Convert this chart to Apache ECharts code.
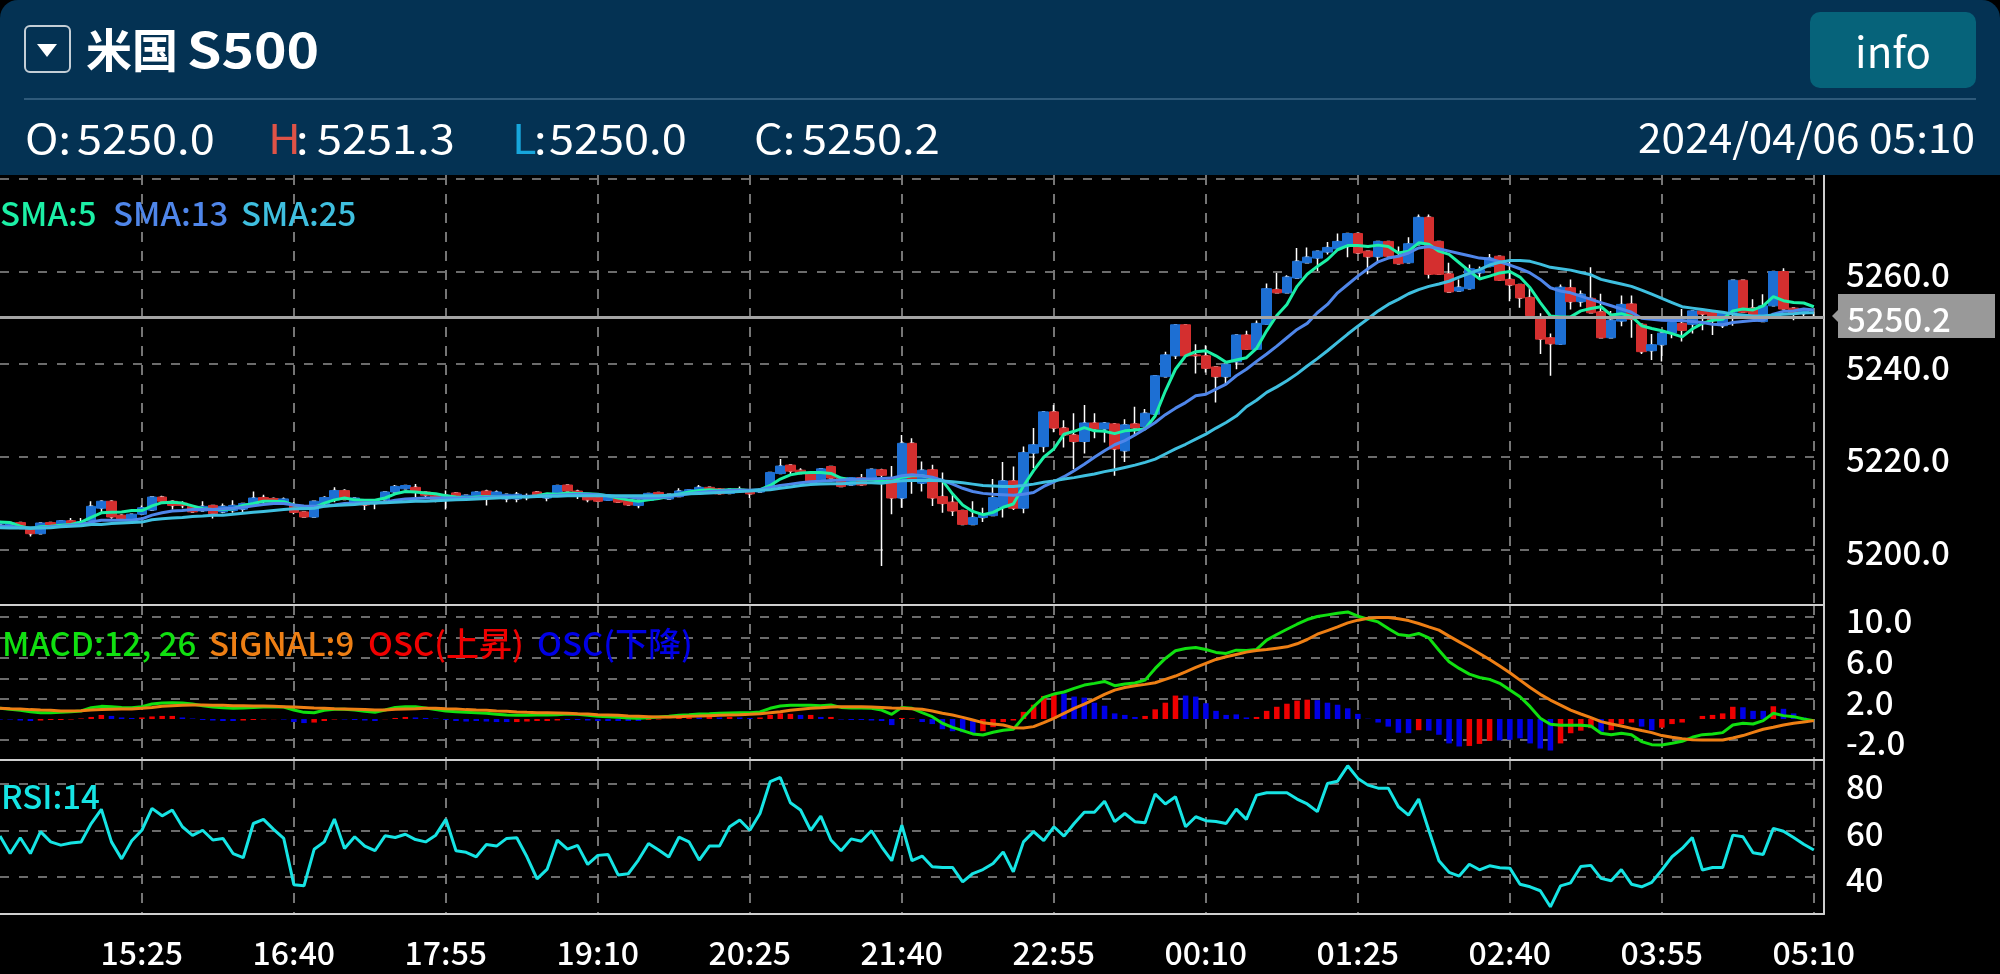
<!DOCTYPE html>
<html><head><meta charset="utf-8">
<style>html,body{margin:0;padding:0;background:#000;overflow:hidden}#c{width:2000px;height:974px}</style>
<script src="https://cdn.jsdelivr.net/npm/echarts@6/dist/echarts.min.js"></script>
</head><body><div id="c"></div>
<script>
const opens=[5205.5,5205.3,5205.8,5204.5,5203.4,5205.8,5205.2,5206.2,5205.2,5206.2,5208.9,5210.4,5207.4,5206.4,5207.6,5208.5,5211.3,5210.4,5210,5209.3,5208.3,5209.5,5208.1,5208.4,5208.7,5209.5,5211.2,5211,5209.9,5209.6,5208.1,5207,5209.9,5210.7,5212.7,5210.2,5210.5,5209.9,5210.7,5212.4,5213.1,5213.4,5212.4,5211.7,5210.6,5212.2,5211,5211.2,5212.6,5211.2,5210.9,5210.9,5211.2,5212.4,5211.1,5212.1,5213.9,5212.6,5211.4,5211.3,5210.6,5211.3,5210.6,5209.5,5210.6,5212.3,5210.9,5211.4,5212.1,5212,5213.4,5213.1,5212.1,5213,5212.9,5212.4,5213.6,5216.4,5218.2,5217.1,5216.3,5214.9,5217.9,5215.5,5213.9,5215.5,5215.4,5217.2,5215.5,5211.1,5222.9,5214.3,5217.2,5211.4,5210.2,5208.4,5205.4,5206.9,5207.3,5209.1,5214.8,5208.9,5220.8,5222.2,5229.7,5226.2,5224.7,5223.3,5227.3,5226,5227.1,5221.3,5227.1,5226.5,5229.2,5237.3,5241.8,5248.5,5242,5241.8,5239.4,5237.3,5240.5,5246.3,5243.2,5248.6,5256.1,5255.4,5258.6,5261.9,5262.9,5264.2,5264.9,5265.4,5268.2,5264.4,5263.2,5266.5,5263.3,5261.9,5265.8,5271.7,5266.5,5259.5,5255.8,5256.3,5259.7,5261.1,5263.3,5258.3,5257.2,5254.4,5250,5245.7,5244.3,5256.5,5253.5,5254.2,5251.3,5245.7,5249.3,5253,5248.6,5242.9,5244.2,5246.7,5248.8,5248.6,5251.5,5251.2,5248.3,5251.2,5258.1,5252.1,5249.2,5252.6,5260,5252.1,5250.9,5250];
const closes=[5206,5205.8,5205.2,5203.4,5205.7,5205.3,5206.2,5205.5,5206,5209.3,5210.4,5207,5206.6,5207.6,5209,5211.3,5210.4,5209.5,5209.5,5208.1,5209.3,5207.7,5209.3,5209.5,5209.9,5211.1,5210.4,5210.3,5210.9,5208,5207,5210.4,5211.2,5212.7,5210.8,5211.1,5209.6,5210.6,5212.4,5213.6,5213.8,5212.4,5211.7,5210.6,5211.7,5211.2,5211.7,5212.4,5211.7,5212.4,5211.9,5211.9,5211.6,5211.4,5211.9,5213.8,5212.6,5211.6,5210.7,5210.4,5211.6,5210.2,5209.6,5210.6,5212.1,5211.3,5211.9,5212.6,5212.9,5213.4,5212.4,5212,5213,5212.4,5212,5213,5216.6,5218,5216.9,5216.4,5214.7,5217.4,5215.4,5213.6,5215.5,5213.9,5217.3,5216,5211.1,5222.9,5215,5217.1,5211.1,5209.9,5208.3,5205.4,5206.9,5207.6,5211.2,5214.8,5208.9,5220.9,5222.6,5229.7,5226.2,5224.7,5223.3,5227.3,5226,5227.3,5221.7,5226.9,5226.2,5229.4,5237.5,5242,5248.5,5241.8,5241.8,5239.1,5237.3,5240,5246.3,5243.2,5248.8,5256.3,5255.4,5258.8,5262.2,5263.1,5264.4,5265.2,5266.5,5268.2,5264,5263.2,5266.5,5263.3,5261.7,5266,5271.7,5259.4,5259.4,5255.6,5256.6,5260.6,5260.4,5262.9,5258.1,5257.1,5254.3,5250.5,5245.4,5244.4,5256.6,5253.5,5255.1,5251.1,5245.7,5249.5,5252.9,5249.7,5242.7,5244.2,5246.7,5249,5247.3,5251.5,5250.8,5249.4,5251.2,5258.1,5251.2,5250.4,5252.6,5260,5251.9,5250.8,5251.9,5250.2];
const highs=[5206.2,5206,5205.9,5204.8,5205.8,5205.9,5206.3,5206.8,5206.8,5210.4,5210.6,5210.6,5207.6,5207.7,5209.5,5211.5,5211.6,5210.6,5210.4,5209.4,5210.4,5209.6,5209.9,5210.6,5210,5212.5,5211.8,5211.2,5211.2,5210.2,5208.2,5210.5,5211.5,5213.4,5213,5211.2,5210.6,5210.7,5212.5,5213.9,5213.9,5214.1,5212.5,5211.8,5212.7,5212.4,5211.8,5212.5,5212.9,5212.7,5212,5212.4,5212.1,5212.6,5212,5213.9,5214,5212.9,5211.5,5211.4,5211.7,5211.4,5210.7,5210.7,5212.2,5212.4,5212,5213.2,5213,5213.9,5213.5,5213.2,5213.1,5213.6,5213,5213.1,5216.7,5219.5,5218.3,5217.5,5216.4,5217.5,5218,5215.6,5215.6,5216.3,5217.4,5217.4,5218,5224.7,5224,5219,5218.3,5216.6,5211.9,5208.5,5210.4,5209,5215.2,5218.9,5217.9,5222.2,5226.2,5229.8,5231.2,5227.9,5229.4,5231.2,5229.4,5227.5,5227.3,5228.1,5230.8,5230.3,5237.6,5242.7,5248.6,5248.6,5244.3,5244.1,5239.5,5240.1,5246.4,5247.2,5249.4,5257.4,5259.7,5259.2,5265.1,5265.2,5264.5,5266.4,5268.2,5268.3,5268.3,5264.5,5263.3,5266.6,5265.4,5267.4,5272.3,5272.3,5266.6,5261.9,5258.3,5261.5,5261.1,5263.8,5263.4,5262.2,5257.3,5256.5,5251,5246.6,5257.2,5258.3,5255.9,5260.9,5255.2,5251.5,5254.8,5254.8,5248.7,5246.5,5246.8,5249.1,5251.9,5251.6,5251.6,5251.3,5251.3,5258.2,5258.2,5254,5255.1,5260.1,5260.7,5252.2,5252,5251.3];
const lows=[5205.2,5205.1,5205,5202.8,5203.3,5205.2,5205.1,5205.4,5205,5206,5208,5206.6,5206.4,5206.3,5207.4,5208.3,5209.8,5208.6,5208.9,5207.9,5208.2,5206.7,5207.8,5207.9,5208,5209.4,5209.9,5210.1,5209.8,5207.6,5206.9,5206.9,5209.5,5210.2,5210.6,5210.1,5208.5,5208.7,5210.5,5212.3,5213,5211.1,5211.1,5210.2,5208.6,5211,5210.9,5211.1,5209.5,5211,5210.2,5210.2,5210.6,5211.3,5210.4,5212,5212.5,5210.9,5210.2,5210.3,5210.5,5210.1,5209.5,5208.9,5210.5,5211.2,5210.8,5211.3,5212,5211.9,5212.3,5211.9,5212,5212.3,5211.1,5212.3,5213.5,5216.3,5216.3,5216.3,5214.6,5214.8,5215.3,5213.5,5213.8,5213.8,5215.3,5196.4,5207.6,5209,5212,5212.5,5209.4,5207.9,5207.2,5205.3,5205.3,5205.9,5207.2,5206.9,5208.5,5207.8,5217.6,5221,5225.3,5222,5217.3,5220.7,5224,5223.1,5215.9,5218.9,5224.5,5226.3,5229.1,5237.2,5241.1,5241.7,5238,5238.2,5231.7,5235.7,5238.9,5243.1,5243.1,5248.5,5255.3,5255.3,5258.5,5261.8,5260.1,5263.7,5264.8,5263.1,5263.9,5259.4,5261.9,5263.2,5261.6,5261.8,5265.7,5258.5,5259.3,5255.4,5255.7,5256.2,5258.5,5261,5258,5253.6,5252.2,5250.4,5242.2,5237.5,5244.2,5251.8,5252.4,5251,5245.6,5245.6,5248.2,5245.7,5242.2,5240.9,5240.6,5245.6,5244.9,5246.6,5247.3,5246.3,5247.8,5248.3,5251.1,5250.3,5249.1,5252.5,5251.8,5249.5,5249.9,5250];
const sma5=[5205.9,5205.8,5205,5204.5,5204.9,5205,5205.2,5205.4,5205.9,5206.9,5207.9,5208,5208.1,5208.4,5208.4,5209.4,5210.1,5210.2,5210,5209.4,5208.8,5208.6,5208.6,5208.8,5209.5,5209.9,5210.4,5210.4,5210.3,5209.6,5209.1,5209.1,5210,5210.7,5211.1,5210.7,5210.6,5210.6,5211.1,5212,5212.5,5212.4,5212.2,5212,5211.6,5211.3,5211.1,5211.3,5211.4,5211.3,5211.4,5211.4,5211.4,5211.6,5212,5211.9,5212.2,5212.1,5212,5211.9,5211.6,5211.1,5210.7,5210.4,5210.7,5211,5211.4,5211.9,5212.4,5212.7,5212.9,5212.7,5212.9,5212.9,5212.7,5212.9,5213.8,5215.2,5216.1,5216.5,5216.6,5216.6,5216.4,5215.4,5215,5215.1,5215,5214.7,5214.7,5215.6,5215.9,5215.9,5215.4,5214.9,5212,5209.6,5208.2,5207.5,5208,5209.1,5209.8,5213.7,5217,5219.9,5221.7,5224.9,5225.5,5226.3,5225.6,5225.5,5225,5225.6,5225.8,5226,5228.8,5234.2,5238.9,5241.8,5242.7,5242.9,5241.8,5240.4,5240.9,5241.4,5243.4,5247.2,5250.5,5252.9,5256.8,5259.4,5261.1,5262.6,5264.7,5265.6,5265.6,5265.4,5265.7,5265.4,5264,5264.4,5266.2,5265.9,5264.4,5263.7,5261.9,5260.1,5258.4,5259,5259.7,5260,5258.8,5256.5,5253.3,5250.4,5250.2,5250.2,5251.5,5252,5252.4,5250.6,5250.9,5250.3,5248.3,5247.7,5247.2,5246.6,5245.9,5247.6,5248.8,5249.5,5249.7,5251.5,5251.9,5251.7,5252.6,5254.6,5253.7,5253.3,5253.2,5252.4];
const sma13=[5205,5205,5204.7,5204.6,5204.7,5204.9,5205,5205.2,5205.4,5205.9,5206.3,5206.3,5206.3,5206.3,5206.6,5207.4,5207.9,5208.3,5208.4,5208.6,5208.6,5208.6,5208.8,5208.9,5209.1,5209.4,5209.7,5209.9,5209.9,5209.6,5209.4,5209.3,5209.4,5209.6,5209.9,5210,5210.1,5210.1,5210.2,5210.6,5210.9,5211,5211.1,5211.1,5211.1,5211.1,5211.1,5211.1,5211.3,5211.3,5211.4,5211.4,5211.5,5211.5,5211.6,5211.7,5211.8,5211.9,5211.9,5211.8,5211.6,5211.4,5211.3,5211.1,5211.1,5211.2,5211.4,5211.7,5212,5212.3,5212.5,5212.6,5212.7,5212.8,5212.8,5212.9,5213.4,5213.8,5214.1,5214.4,5214.6,5214.7,5214.9,5215,5215.1,5215.2,5215.2,5215.3,5215.4,5215.9,5216.1,5215.9,5215.6,5214.9,5214.1,5213.2,5212.5,5212.1,5211.9,5211.8,5211.7,5211.9,5212.3,5213.6,5214.6,5215.7,5217,5218.4,5219.9,5221.3,5222.6,5223.5,5224.7,5226,5227.4,5229.1,5230.5,5231.7,5233.2,5233.5,5234.6,5235.7,5237.5,5238.9,5240.6,5242.2,5243.9,5245.7,5247.5,5248.8,5251.1,5252.9,5255.4,5257.2,5259,5260.6,5262.1,5262.9,5263.3,5264,5265.1,5265.4,5264.9,5264.4,5263.9,5263.4,5262.9,5262.7,5262.1,5261.4,5260.6,5259.7,5258.3,5256.5,5255.8,5255.4,5254.7,5254,5253.3,5252.6,5251.9,5251.2,5249.9,5249.7,5249.5,5249.4,5249.4,5249.2,5249,5248.6,5248.5,5249,5249.2,5249.4,5249.5,5250.8,5251.4,5251.5,5251.9,5251.7];
const sma25=[5204.7,5204.6,5204.6,5204.6,5204.6,5204.7,5204.9,5205,5205.1,5205.4,5205.4,5205.6,5205.7,5205.8,5205.9,5206.4,5206.6,5206.8,5206.9,5207.1,5207.2,5207.4,5207.4,5207.6,5207.8,5208,5208.2,5208.4,5208.6,5208.8,5208.8,5208.9,5209.3,5209.5,5209.6,5209.7,5209.9,5210,5210.1,5210.2,5210.3,5210.4,5210.4,5210.5,5210.6,5210.7,5210.8,5210.9,5211,5211.1,5211.2,5211.3,5211.3,5211.4,5211.5,5211.5,5211.6,5211.6,5211.6,5211.6,5211.6,5211.6,5211.6,5211.6,5211.6,5211.6,5211.7,5211.9,5212,5212.1,5212.2,5212.3,5212.4,5212.5,5212.6,5212.8,5212.9,5213.2,5213.5,5213.8,5214,5214.1,5214.2,5214.2,5214.3,5214.4,5214.4,5214.3,5214.6,5214.8,5214.9,5214.9,5214.9,5214.8,5214.6,5214.4,5214.1,5213.8,5213.7,5213.6,5213.6,5213.8,5214.1,5214.5,5214.8,5215.2,5215.5,5215.9,5216.3,5216.8,5217.2,5217.7,5218.2,5218.8,5219.5,5220.6,5221.7,5222.7,5223.8,5224.9,5226.2,5227.4,5228.8,5230.8,5232.2,5233.9,5235.1,5236.4,5237.9,5239.6,5241.2,5242.9,5244.7,5246.5,5248.2,5249.8,5251.5,5252.9,5254,5255.2,5256.1,5256.8,5257.3,5257.9,5258.8,5259.6,5260.4,5261.4,5262,5262.4,5262.4,5262.2,5261.6,5260.9,5260.6,5260.3,5259.8,5259.3,5258.3,5257.8,5257.3,5256.8,5256,5255.1,5254.2,5253.3,5252.4,5252.1,5251.8,5251.5,5251.2,5250.8,5250.6,5250.4,5250.4,5250.6,5250.8,5250.9,5251.1,5251.1];
const macd=[1.05,.95,.85,.72,.62,.62,.65,.72,.78,1.11,1.24,1.21,1.14,1.11,1.21,1.47,1.57,1.6,1.57,1.47,1.31,1.18,1.11,1.05,1.08,1.14,1.18,1.21,1.18,.88,.65,.62,.85,.95,.95,.88,.75,.65,.88,1.14,1.21,1.21,1.08,.92,.78,.72,.65,.62,.56,.46,.39,.36,.36,.39,.39,.42,.49,.46,.36,.26,.23,.16,.1,.07,.13,.2,.26,.36,.42,.49,.52,.56,.59,.62,.62,.69,1.05,1.27,1.34,1.34,1.34,1.31,1.37,1.14,1.08,1.08,1.05,.88,.46,1.14,1.05,.62,.23,-.42,-.82,-1.14,-1.47,-1.57,-1.31,-1.11,-1.01,.16,1.21,2.12,2.45,2.65,3.01,3.33,3.5,3.69,3.27,3.43,3.53,3.82,4.97,5.95,6.7,6.93,7.03,6.83,6.54,6.44,6.76,6.73,6.83,7.75,8.3,8.82,9.31,9.77,10.07,10.23,10.39,10.52,10.1,9.8,9.54,8.89,8.3,8.17,8.4,7.97,6.76,5.62,4.97,4.41,4.08,3.89,3.5,2.84,2.19,1.21,.07,-.52,-.62,-.62,-.62,-.69,-1.41,-1.54,-1.41,-1.54,-2.22,-2.52,-2.55,-2.39,-2.19,-1.8,-1.54,-1.47,-1.34,-.59,-.42,-.49,-.16,.56,.33,.23,0,-.16];
const signal=[1.05,1.01,.98,.92,.88,.85,.78,.78,.82,.88,.92,.95,.98,.98,1.05,1.14,1.24,1.31,1.34,1.37,1.37,1.34,1.34,1.31,1.31,1.27,1.27,1.24,1.21,1.18,1.14,1.08,1.05,1.01,.98,.95,.92,.88,.88,.95,.98,1.01,1.05,1.05,1.01,.98,.92,.88,.85,.78,.75,.69,.65,.62,.62,.59,.56,.52,.49,.42,.39,.36,.29,.26,.23,.2,.2,.23,.26,.29,.33,.36,.39,.42,.46,.52,.62,.72,.85,.95,1.05,1.11,1.18,1.21,1.21,1.21,1.18,1.14,1.08,1.05,1.01,.95,.78,.56,.39,.16,-.1,-.36,-.49,-.59,-.85,-.88,-.75,-.36,.07,.56,1.05,1.47,1.93,2.42,2.84,3.1,3.27,3.4,3.56,3.89,4.22,4.64,5.07,5.46,5.85,6.11,6.34,6.57,6.73,6.83,6.96,7.09,7.39,7.81,8.33,8.69,9.05,9.44,9.71,9.9,9.97,9.97,9.84,9.67,9.38,9.05,8.73,8.14,7.58,7.03,6.44,5.85,5.2,4.54,3.82,3.1,2.42,1.86,1.37,.88,.49,.13,-.26,-.49,-.69,-.92,-1.14,-1.34,-1.63,-1.8,-1.93,-2.03,-2.06,-2.06,-2.06,-1.86,-1.63,-1.31,-1.01,-.82,-.59,-.42,-.29,-.16];
const oscUp=[null,null,null,null,-.15,-.1,-.1,-.05,.05,.2,.4,null,null,null,.15,.25,.3,.3,null,null,null,null,null,null,-.15,-.1,-.05,-.02,null,null,null,-.35,-.2,-.05,null,null,null,null,-.02,.1,.2,null,null,null,null,null,null,null,null,null,null,-.3,-.25,-.2,-.2,-.15,null,null,null,null,null,null,null,null,-.1,-.05,.02,.1,.15,null,.2,null,.2,null,null,.15,.4,.55,.5,null,.4,null,.2,null,null,null,null,null,null,.1,.05,null,null,null,null,null,null,-1.2,-.8,-.3,-.15,.7,1.4,2.25,2.5,null,null,null,null,null,null,null,null,.3,.95,1.6,2.3,null,null,null,null,null,null,null,.2,.8,1.2,1.5,1.8,1.9,null,null,null,null,null,null,null,null,null,null,-1.1,null,null,null,null,-2.65,-2.45,-2.15,null,null,null,null,null,null,-2.4,-1.4,-1.15,-.9,null,-1.1,-.5,-.35,null,null,-.85,-.5,-.35,0,.3,.4,.55,1.2,null,null,null,1.25,null,null,null,null];
const oscDown=[-.05,-.05,-.15,-.2,null,null,null,null,null,null,null,.3,.15,.1,null,null,null,null,.15,.05,-.1,-.15,-.2,-.2,null,null,null,null,-.05,-.3,-.4,null,null,null,-.05,-.1,-.15,-.2,null,null,null,.15,.1,.05,-.1,-.2,-.25,-.2,-.25,-.3,-.3,null,null,null,null,null,-.1,-.1,-.15,-.2,-.2,-.2,-.2,-.2,null,null,null,null,null,.15,null,.15,null,.15,.1,null,null,null,null,.4,null,.2,null,-.05,-.1,-.1,-.15,-.2,-.6,null,null,-.3,-.5,-1,-1.2,-1.3,-1.4,null,null,null,null,null,null,null,null,2.5,2.2,2.1,1.6,1.3,.55,.4,.2,null,null,null,null,2.3,2.2,1.55,.8,.4,.45,.15,null,null,null,null,null,null,1.85,1.6,1.4,1.05,.5,.03,-.35,-.75,-1.35,-1.4,null,-1.15,-1.55,-2.4,-2.7,null,null,null,-2.1,-2.05,-1.9,-2.4,-2.9,-3.1,null,null,null,null,-1.25,null,null,null,-.75,-1.1,null,null,null,null,null,null,null,null,1.15,.8,.8,null,1,.55,.15,0];
const rsi=[57.5,50,56.8,50,59.4,55,53.6,54.5,54.9,62.9,69,55,47.7,55.5,60,69.4,66.2,68.7,61.5,57.8,60,55.8,56.5,50,48.2,62.9,64.7,60.4,56.5,36.6,36.1,51.8,55,64.8,52.2,57.2,53.2,51.2,57.6,56.9,58.3,56,55,57.9,64.7,51.2,50.5,48.6,53.9,53.2,56.5,56.8,48.6,39.1,43.3,55.8,51.9,53.5,45.3,49.2,49.6,40.8,41.3,47.2,54.3,51.5,48.5,57,55,47.2,53.2,53.2,61.5,64.4,60,67.2,80.9,82.7,71.8,68.7,60,66.1,55.8,51.2,56.3,55.3,59.8,52.9,46.9,62.2,46.9,48.9,44.3,44,44,37.8,41.4,43.1,45.7,50.7,42.1,55,59.4,55.5,61.5,57.5,62.9,67.7,67.7,72.5,63.7,67.2,63.7,63.2,75.6,71.3,74.4,61.5,65.8,64.1,63.8,62.9,69.1,64.7,75.1,76.1,76.1,76.1,73.4,71.3,68,80.1,81.1,87.7,82.3,79.4,78.1,78.1,70.1,66.5,73.4,60,46.9,41.9,40.3,45.4,43,44.7,43.9,43.7,36.8,35.7,34,27.1,36.1,37.4,44.4,44.9,39.3,38.3,43.1,36.8,35.7,37.6,42.9,48.6,52.2,56.9,42.9,44,44,57.9,57.2,50.3,49.6,60.8,59.6,56.9,54,51.5];
const priceTicks=[5200,5220,5240,5260,5280];
const priceLabels=[5200,5220,5240,5260];
const macdTicks=[-2,2,4,6,8,10];
const macdLabels=[-2,2,6,10];
const rsiTicks=[40,60,80];
const lastPrice=5250.2;

const FONT='"Noto Sans CJK JP","Noto Sans",sans-serif';
const times=[];
for(let i=0;i<181;i++){const m=(14*60+15+5*i)%1440;times.push(i===180?'':String(Math.floor(m/60)).padStart(2,'0')+':'+String(m%60).padStart(2,'0'));}
const isMark=i=>i>=14&&(i-14)%15===0&&i<180;
const grids=[{left:0,width:1824,top:175,height:430},{left:0,width:1824,top:605,height:155},{left:0,width:1824,top:760,height:154}];
const dash={show:true,interval:isMark,lineStyle:{color:'#757575',width:2,type:[10,9]}};
const hdash={show:true,lineStyle:{color:'#6c6c6c',width:2,type:[9,10]}};
const line={show:true,onZero:false,lineStyle:{color:'#cfcfcf',width:2}};
const xAxis=[0,1,2].map(g=>({type:'category',gridIndex:g,data:times,boundaryGap:false,axisLine:line,axisTick:{show:false},splitLine:dash,
  axisLabel:g===2?{show:true,interval:isMark,color:'#fff',fontFamily:FONT,fontSize:32,fontWeight:500,margin:23,hideOverlap:false}:{show:false}}));
const yBase=(g,min,max,ticks,labels,fmt,lh)=>({type:'value',gridIndex:g,position:'right',min,max,scale:true,axisLine:line,
  axisTick:{show:false,customValues:ticks},splitLine:hdash,
  axisLabel:{show:true,customValues:labels,formatter:fmt,color:'#fff',fontFamily:FONT,fontSize:33,fontWeight:500,margin:22,verticalAlign:'top',lineHeight:lh,showMinLabel:true,showMaxLabel:true}});
const yAxis=[yBase(0,5188,5280.84,priceTicks,priceLabels,v=>v.toFixed(1),6),yBase(1,-4.03,11.2,macdTicks,macdLabels,v=>v.toFixed(1),7),yBase(2,24,90.2,rsiTicks,rsiTicks,v=>String(v),6)];
const wicks=opens.map((o,i)=>[o,closes[i],lows[i],highs[i]]);
const bodies=opens.map((o,i)=>[o,closes[i],Math.min(o,closes[i]),Math.max(o,closes[i])]);
const UP='#1d6fd3',DOWN='#d42f2f';
const ln=(name,data,color,x,width)=>({name,type:'line',xAxisIndex:x,yAxisIndex:x,data,showSymbol:false,symbol:'none',smooth:false,lineStyle:{color,width},itemStyle:{color},z:5,silent:true});
const series=[
 {name:'wick',type:'candlestick',xAxisIndex:0,yAxisIndex:0,data:wicks,barWidth:3,itemStyle:{color:'#fff',color0:'#fff',borderColor:'#fff',borderColor0:'#fff',borderWidth:1.5},z:2,silent:true},
 {name:'candle',type:'candlestick',xAxisIndex:0,yAxisIndex:0,data:bodies,barWidth:10,itemStyle:{color:UP,color0:DOWN,borderColor:UP,borderColor0:DOWN,borderWidth:1},z:3,silent:true},
 ln('SMA:5',sma5,'#1cf0a6',0,3),ln('SMA:13',sma13,'#4f86ea',0,3),
 Object.assign(ln('SMA:25',sma25,'#3fbfdf',0,3),{markLine:{silent:true,symbol:'none',label:{show:false},lineStyle:{color:'#a4a4a4',width:3,type:'solid'},data:[{yAxis:lastPrice}],z:9}}),
 {name:'OSC(上昇)',type:'bar',xAxisIndex:1,yAxisIndex:1,data:oscUp,barWidth:5.5,barGap:'-100%',itemStyle:{color:'#f00000'},z:3,silent:true},
 {name:'OSC(下降)',type:'bar',xAxisIndex:1,yAxisIndex:1,data:oscDown,barWidth:5.5,barGap:'-100%',itemStyle:{color:'#0000e6'},z:3,silent:true},
 ln('MACD',macd,'#10e010',1,3),ln('SIGNAL',signal,'#ee7f14',1,3),
 ln('RSI',rsi,'#16e4e4',2,3)
];
const T=(text,x,y,fill,size,opt={})=>({type:'text',z:100,originX:x,originY:y,scaleX:opt.sx||1,style:{text,x,y,fill,font:`${opt.w||400} ${size}px ${FONT}`,textAlign:opt.a||'left',textVerticalAlign:'middle'}});
const HS=41,HX=1.1;
const graphic=[
 {type:'rect',z:90,shape:{x:0,y:0,width:2000,height:175,r:[18,18,0,0]},style:{fill:'#043253'}},
 {type:'rect',z:100,shape:{x:25,y:26,width:45,height:46,r:5},style:{fill:'none',stroke:'#c4ced6',lineWidth:2}},
 {type:'polygon',z:100,shape:{points:[[37,44],[57,44],[47,57]]},style:{fill:'#fff'}},
 T('米国',86,50,'#fff',46,{w:700}),
 T('S500',187,50,'#fff',48,{w:700,sx:1.15}),
 {type:'rect',z:100,shape:{x:1810,y:12,width:166,height:76,r:10},style:{fill:'#06637a'}},
 T('info',1893,52,'#fff',42,{a:'center'}),
 {type:'rect',z:100,shape:{x:24,y:98,width:1952,height:2},style:{fill:'#2f5a7a'}},
 T('O:',25,138,'#fff',HS,{sx:HX}),T('5250.0',77,138,'#fff',HS,{sx:HX}),
 T('H',268,138,'#df5347',HS,{sx:HX}),T(':',296,138,'#fff',HS,{sx:HX}),T('5251.3',317,138,'#fff',HS,{sx:HX}),
 T('L',512,138,'#17a6dc',HS,{sx:HX}),T(':',534,138,'#fff',HS,{sx:HX}),T('5250.0',549,138,'#fff',HS,{sx:HX}),
 T('C:',754,138,'#fff',HS,{sx:HX}),T('5250.2',802,138,'#fff',HS,{sx:HX}),
 T('2024/04/06 05:10',1975,138,'#fff',40,{a:'right',sx:1.06}),
 T('SMA:5',0,213,'#1cf0a6',33,{w:500}),T('SMA:13',113,213,'#4f86ea',33,{w:500}),T('SMA:25',241,213,'#3fbfdf',33,{w:500}),
 T('MACD:12, 26',2,643,'#10e010',33,{w:500}),T('SIGNAL:9',209,643,'#ee7f14',33,{w:500}),T('OSC(上昇)',368,643,'#f00000',33,{w:500}),T('OSC(下降)',537,643,'#0000e6',33,{w:500}),
 T('RSI:14',1,796,'#16e4e4',33,{w:500}),
 {type:'polygon',z:100,shape:{points:[[1832,316],[1838,310],[1838,322]]},style:{fill:'#999'}},
 {type:'rect',z:100,shape:{x:1838,y:294,width:157,height:44},style:{fill:'#999'}},
 T('5250.2',1847,319,'#fff',33,{w:500})
];
const chart=echarts.init(document.getElementById('c'),null,{renderer:'canvas',width:2000,height:974});
chart.setOption({animation:false,backgroundColor:'#000',grid:grids,xAxis,yAxis,series,graphic});
</script></body></html>
